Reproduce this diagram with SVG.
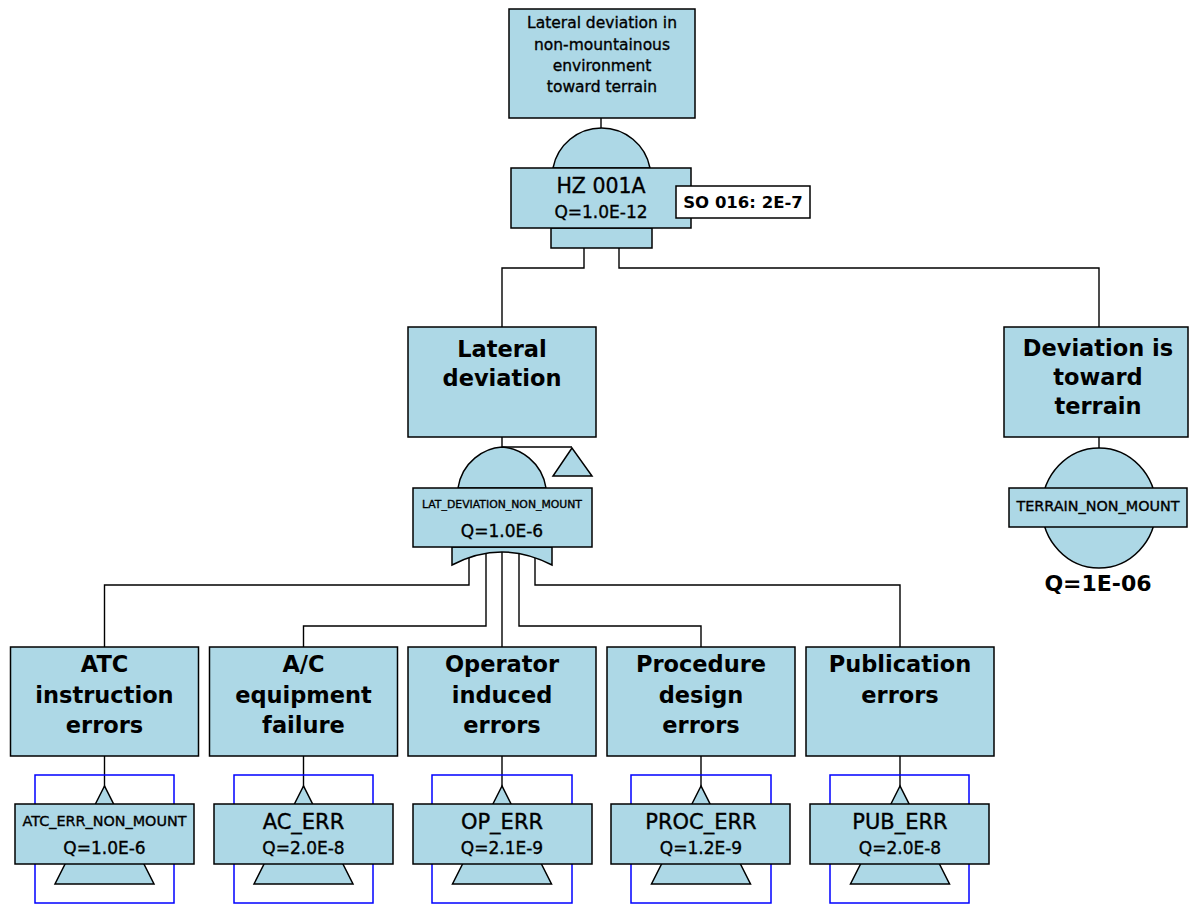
<svg xmlns="http://www.w3.org/2000/svg" width="1189" height="904" viewBox="0 0 1189 904">
<style>
.box{fill:#add8e6;stroke:#000;stroke-width:1.5}
.wbox{fill:#fff;stroke:#000;stroke-width:1.5}
.blue{fill:none;stroke:#0000ff;stroke-width:1.5}
.conn{fill:none;stroke:#000;stroke-width:1.4}
text{font-family:"DejaVu Sans","Liberation Sans",sans-serif;fill:#000;text-anchor:middle}
.n{stroke:#000;stroke-width:0.35}
.t16{font-size:15.5px}
.big{font-size:22.5px;font-weight:bold}
.q{font-size:17px}
.name{font-size:21px}
</style>
<g id="connectors">
<path class="conn" d="M601,118 V130"/>
<path class="conn" d="M584,246 V268 H502 V327"/>
<path class="conn" d="M619,246 V268 H1099 V327"/>
<path class="conn" d="M502,437 V447 H572"/>
<path class="conn" d="M1099,437 V449"/>
<path class="conn" d="M469,552 V585 H104.5 V647"/>
<path class="conn" d="M486,552 V626 H303.5 V647"/>
<path class="conn" d="M502,552 V647"/>
<path class="conn" d="M519,552 V626 H701 V647"/>
<path class="conn" d="M535,552 V585 H900 V647"/>
<path class="conn" d="M104.5,756 V788"/>
<path class="conn" d="M303.5,756 V788"/>
<path class="conn" d="M502,756 V788"/>
<path class="conn" d="M701,756 V788"/>
<path class="conn" d="M900,756 V788"/>
</g>
<g id="top_event">
<rect class="box" x="509" y="9" width="186" height="109"/>
<text class="t16 n" x="602" y="28">Lateral deviation in</text>
<text class="t16 n" x="602" y="50">non-mountainous</text>
<text class="t16 n" x="602" y="71">environment</text>
<text class="t16 n" x="602" y="92">toward terrain</text>
</g>
<g id="gate_hz001a">
<path class="box" d="M553,168 A49.4,49.4 0 0 1 650,168 Z"/>
<rect class="box" x="551" y="228" width="101" height="20"/>
<rect class="box" x="511" y="168" width="180" height="60"/>
<text class="n" x="601" y="193" style="font-size:20.5px">HZ 001A</text>
<text class="q n" x="601" y="218">Q=1.0E-12</text>
<rect class="wbox" x="676" y="186" width="134" height="32"/>
<text x="743" y="208" style="font-size:16.5px;font-weight:bold">SO 016: 2E-7</text>
</g>
<g id="lateral_deviation">
<rect class="box" x="408" y="327" width="188" height="110"/>
<text class="big" x="502" y="357">Lateral</text>
<text class="big" x="502" y="386">deviation</text>
</g>
<g id="gate_lat_deviation">
<path class="box" d="M458,488 C462,462 484,448 502,447 C520,448 542,462 546,488 Z"/>
<path class="box" d="M572,448 L553,476 L592,476 Z"/>
<path class="box" d="M452,547 L452,565 Q502,539 552,565 L552,547 Z"/>
<rect class="box" x="413" y="488" width="179" height="59"/>
<text class="n" x="502" y="508" style="font-size:11px" textLength="160" lengthAdjust="spacingAndGlyphs">LAT_DEVIATION_NON_MOUNT</text>
<text class="q n" x="502" y="537">Q=1.0E-6</text>
</g>
<g id="deviation_toward_terrain">
<rect class="box" x="1004" y="327" width="184" height="110"/>
<text class="big" x="1098" y="356">Deviation is</text>
<text class="big" x="1098" y="385">toward</text>
<text class="big" x="1098" y="414">terrain</text>
</g>
<g id="event_terrain_non_mount">
<ellipse class="box" cx="1099" cy="508" rx="57" ry="60"/>
<rect class="box" x="1009" y="488" width="178" height="39"/>
<text class="n" x="1098" y="511" style="font-size:14px" textLength="163" lengthAdjust="spacingAndGlyphs">TERRAIN_NON_MOUNT</text>
<text x="1098" y="591" style="font-size:22px;font-weight:bold">Q=1E-06</text>
</g>
<g id="atc_errors">
<rect class="box" x="10.5" y="647" width="188" height="109"/>
<text class="big" x="104.5" y="672">ATC</text>
<text class="big" x="104.5" y="703">instruction</text>
<text class="big" x="104.5" y="733">errors</text>
</g>
<g id="transfer_atc_err">
<rect class="blue" x="35" y="775" width="139" height="128"/>
<path class="box" d="M104.5,786 L55,884 L154,884 Z"/>
<rect class="box" x="15" y="804" width="179" height="60"/>
<text class="n" x="104.5" y="826" style="font-size:14px" textLength="164" lengthAdjust="spacingAndGlyphs">ATC_ERR_NON_MOUNT</text>
<text class="q n" x="104.5" y="854">Q=1.0E-6</text>
</g>
<g id="ac_equipment_failure">
<rect class="box" x="209.5" y="647" width="188" height="109"/>
<text class="big" x="303.5" y="672">A/C</text>
<text class="big" x="303.5" y="703">equipment</text>
<text class="big" x="303.5" y="733">failure</text>
</g>
<g id="transfer_ac_err">
<rect class="blue" x="234" y="775" width="139" height="128"/>
<path class="box" d="M303.5,786 L254,884 L353,884 Z"/>
<rect class="box" x="214" y="804" width="179" height="60"/>
<text class="name n" x="303.5" y="829">AC_ERR</text>
<text class="q n" x="303.5" y="854">Q=2.0E-8</text>
</g>
<g id="operator_induced_errors">
<rect class="box" x="408" y="647" width="188" height="109"/>
<text class="big" x="502" y="672">Operator</text>
<text class="big" x="502" y="703">induced</text>
<text class="big" x="502" y="733">errors</text>
</g>
<g id="transfer_op_err">
<rect class="blue" x="432" y="775" width="140" height="128"/>
<path class="box" d="M502,786 L452.5,884 L551.5,884 Z"/>
<rect class="box" x="413" y="804" width="179" height="60"/>
<text class="name n" x="502" y="829">OP_ERR</text>
<text class="q n" x="502" y="854">Q=2.1E-9</text>
</g>
<g id="procedure_design_errors">
<rect class="box" x="607" y="647" width="188" height="109"/>
<text class="big" x="701" y="672">Procedure</text>
<text class="big" x="701" y="703">design</text>
<text class="big" x="701" y="733">errors</text>
</g>
<g id="transfer_proc_err">
<rect class="blue" x="631" y="775" width="140" height="128"/>
<path class="box" d="M701,786 L651.5,884 L750.5,884 Z"/>
<rect class="box" x="611" y="804" width="179" height="60"/>
<text class="name n" x="701" y="829">PROC_ERR</text>
<text class="q n" x="701" y="854">Q=1.2E-9</text>
</g>
<g id="publication_errors">
<rect class="box" x="806" y="647" width="188" height="109"/>
<text class="big" x="900" y="672">Publication</text>
<text class="big" x="900" y="703">errors</text>
</g>
<g id="transfer_pub_err">
<rect class="blue" x="830" y="775" width="139" height="128"/>
<path class="box" d="M900,786 L850.5,884 L949.5,884 Z"/>
<rect class="box" x="810" y="804" width="179" height="60"/>
<text class="name n" x="900" y="829">PUB_ERR</text>
<text class="q n" x="900" y="854">Q=2.0E-8</text>
</g>
</svg>
